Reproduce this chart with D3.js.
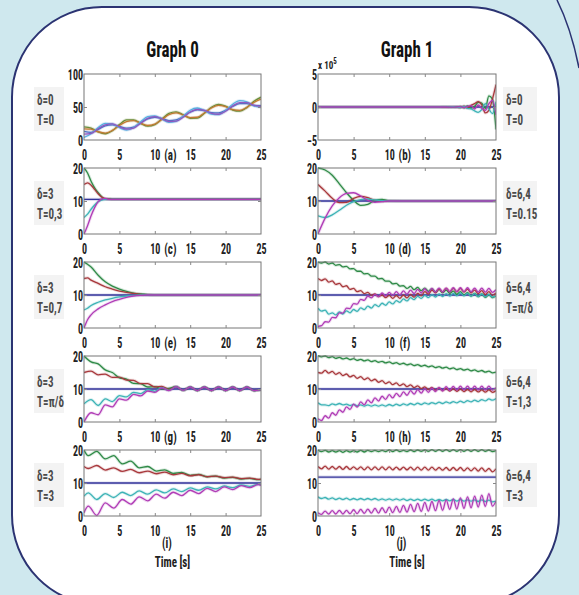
<!DOCTYPE html>
<html><head><meta charset="utf-8">
<script src="https://cdn.jsdelivr.net/npm/d3@7"></script>
<style>
body{margin:0;background:#cfe8ee;}
svg{display:block}
text{font-family:"Liberation Sans Narrow","Arial Narrow","Roboto Condensed","DejaVu Sans Condensed",sans-serif;font-weight:bold;}
</style></head><body>
<svg id="chart" width="579" height="595"></svg>
<script>
// ---------- DATA ----------
const xTicks = [0,5,10,15,20,25];
const yTicks100 = [0,50,100];
const yTicks20 = [0,10,20];
const yTicksB = [-5,0,5];
const flat_t = [0,25];

// (a) Graph 0, δ=0, T=0
const a_t = [0,1,2,3,4,5,6,7,8,9,10,11,12,13,14,15,16,17,18,19,20,21,22,23,24,25];
const a_blue = [13,11.5,16,21.5,23,20.5,18,19.5,26,32,34.5,32.5,29.5,30.5,35.5,42,45.5,44.5,41.5,41,45,51,55,55,52.5,52];
const a_green = [20.0,18.1,12.3,9.5,14.0,23.3,30.5,30.6,25.2,20.9,23.3,31.8,40.4,42.7,38.3,32.9,33.1,40.4,49.7,54.1,51.3,45.4,43.6,49.1,58.6,64.9];
const a_red = [17,16.5,12.5,10.5,14.5,22,28,29.5,25.5,22,24,31,38.5,41,38,34,34.5,41,48.5,52.5,50.5,46,45,49.5,57,62];
const a_cyan = [4.0,9.5,18.9,25.3,24.4,18.7,15.1,18.6,27.6,35.5,36.7,31.8,26.8,28.1,36.1,45.1,48.5,44.8,39.1,38.3,44.7,54.2,59.6,57.7,51.8,49.1];
const a_magenta = [9,10,17,23,24.5,20,16.5,18,25.5,33,35.5,32,28,28.5,34.5,42.5,46.5,45,40.5,39,43.5,51.5,56.5,56.5,52.5,51];

// (b) Graph 1, δ=0, T=0  (x 10^5)
const b_t = [0,17,18,19,20,20.5,21,21.5,22,22.5,23,23.5,24,24.5,25];
const b_blue = [0,0];
const b_green = [0,0,0.02,-0.05,0.1,-0.12,0.15,-0.2,0.1,0.7,0.6,-0.2,1.7,1.2,-3.4];
const b_red = [0,0,-0.02,0.05,-0.1,0.12,-0.15,0.25,0.5,0.8,0.3,-0.9,-0.5,1.2,3.4];
const b_cyan = [0,0,0.02,0.04,-0.08,0.1,-0.2,-0.3,-0.6,-0.8,-0.4,0.5,-0.3,-1.0,0.8];
const b_magenta = [0,0,0,-0.03,0.06,-0.1,0.1,0.2,-0.3,0.3,-0.2,-0.5,0.5,1.0,-1.2];

// (c) Graph 0, δ=3, T=0,3
const c_t = [0,0.5,1,1.5,2,2.5,3,3.5,4,5,25];
const c_blue = [10.5,10.5];
const c_green = [20,18.5,16,14,12.5,11.3,10.6,10.6,10.5,10.5,10.5];
const c_red = [15,15.5,14.8,13.5,12.2,11.2,10.7,10.6,10.5,10.5,10.5];
const c_cyan = [5,6,7.5,8.8,9.8,10.3,10.5,10.5,10.5,10.5,10.5];
const c_magenta = [0,2.5,5.5,8,9.8,10.6,10.8,10.5,10.5,10.5,10.5];

// (d) Graph 1, δ=6,4, T=0.15
const d_t = [0,1,2,3,4,5,6,7,8,9,10,12,25];
const d_blue = [10,10];
const d_green = [20,19.4,17.8,15.2,12.5,10.2,8.7,9.0,10.2,10.5,10.1,10,10];
const d_red = [15,13,10.8,9.5,9.6,10.8,11.4,11,10.2,9.9,10,10,10];
const d_cyan = [5.5,5.0,5.8,7.2,8.7,9.8,10.4,10.6,10.3,10.1,10,10,10];
const d_magenta = [0,4.8,8.5,11,12.3,12.5,11.5,10.2,9.6,9.8,10,10,10];

// (e) Graph 0, δ=3, T=0,7
const e_t = [0,0.5,1,2,3,4,5,6,7,8,9,10,12,25];
const e_blue = [10,10];
const e_green = [20,19.3,18.5,16,14,12.7,11.8,11.1,10.6,10.3,10.1,10,10,10];
const e_red = [15,15.2,14.5,13.5,12.5,11.8,11.2,10.8,10.5,10.2,10.1,10,10,10];
const e_cyan = [5.5,6,6.8,7.8,8.5,9.0,9.4,9.7,9.9,10,10,10,10,10];
const e_magenta = [0,2.5,4,5.8,7,8,8.7,9.3,9.7,9.9,10,10,10,10];

// (f),(h),(j) sample grid
const fhj_t = [0,0.5,1,1.5,2,2.5,3,3.5,4,4.5,5,5.5,6,6.5,7,7.5,8,8.5,9,9.5,10,10.5,11,11.5,12,12.5,13,13.5,14,14.5,15,15.5,16,16.5,17,17.5,18,18.5,19,19.5,20,20.5,21,21.5,22,22.5,23,23.5,24,24.5,25];

// (f) Graph 1, δ=6,4, T=π/δ
const f_blue = [10,10];
const f_green = [20.0,19.7,20.0,19.4,19.7,19.0,19.2,18.5,18.7,17.9,18.0,17.2,17.2,16.4,16.5,15.7,15.7,14.9,15.0,14.2,14.2,13.4,13.5,12.7,12.8,12.0,12.6,11.6,12.3,11.3,12.1,11.1,11.9,10.9,11.7,10.7,11.5,10.5,11.2,10.2,11.0,10.0,10.7,9.7,10.5,9.5,10.3,9.3,10.1,9.2,9.8];
const f_red = [15.0,14.4,14.9,13.9,14.3,13.2,13.5,12.5,12.8,11.7,12.0,11.0,11.3,10.4,10.8,9.9,10.3,9.5,10.0,9.2,9.9,9.0,9.85,9.0,10.0,9.1,10.2,9.35,10.5,9.75,11.0,10.25,11.5,10.65,11.8,10.9,12.0,11.0,12.0,11.0,12.0,10.9,11.8,10.65,11.5,10.4,11.3,10.15,11.0,9.9,10.6];
const f_cyan = [6.0,5.1,5.4,4.2,4.6,3.95,4.9,4.25,5.2,4.6,5.6,5.05,6.1,5.55,6.6,6.05,7.1,6.5,7.5,6.9,7.9,7.3,8.3,7.75,8.8,8.2,9.2,8.6,9.6,8.95,9.9,9.2,10.1,9.4,10.3,9.55,10.4,9.65,10.5,9.75,10.6,9.75,10.5,9.65,10.4,9.55,10.3,9.45,10.2,9.35,9.9];
const f_magenta = [0.5,0.7,1.9,1.8,3.2,3.1,4.6,4.5,6.0,5.9,7.4,7.25,8.7,8.4,9.7,9.15,10.2,9.5,10.6,9.7,10.8,9.9,11.0,10.05,11.25,10.25,11.45,10.45,11.7,10.6,11.9,10.75,12.0,10.85,12.1,10.9,12.1,10.95,12.2,11.0,12.2,11.0,12.2,10.95,12.1,10.9,12.1,10.85,12.0,10.8,11.6];

// (g) Graph 0, δ=3, T=π/δ
const g_t = [0,1,2,3,4,5,6,7,8,9,10,11,12,13,14,15,16,17,18,19,20,21,22,23,24,25];
const g_blue = [10,10];
const g_green = [20,18.2,17.6,15.8,15.0,13.4,13.0,11.7,11.6,10.6,10.7,10.0,10.2,10.7,9.6,10.6,9.5,10.6,9.5,10.6,9.5,10.6,9.5,10.6,9.5,9.8];
const g_red = [15,15.4,14.3,14.5,13.5,13.6,12.7,12.6,11.6,11.6,10.6,10.8,9.9,10.7,9.6,10.6,9.5,10.6,9.5,10.6,9.5,10.6,9.5,10.6,9.5,9.8];
const g_cyan = [5.5,6.8,5.0,7.0,6.2,8.0,7.6,9.0,8.6,9.8,9.3,10.5,9.6,10.7,9.6,10.6,9.5,10.6,9.5,10.6,9.5,10.6,9.5,10.6,9.5,9.8];
const g_magenta = [0,2.8,2.2,5.2,4.6,7.0,6.6,8.4,7.9,9.4,9.0,10.3,9.5,10.7,9.6,10.6,9.5,10.6,9.5,10.6,9.5,10.6,9.5,10.6,9.5,9.8];

// (h) Graph 1, δ=6,4, T=1,3
const h_blue = [10,10];
const h_green = [20.1,19.75,20.0,19.5,19.8,19.3,19.6,19.1,19.4,18.9,19.2,18.7,19.0,18.5,18.8,18.3,18.6,18.1,18.4,17.9,18.2,17.7,18.0,17.5,17.8,17.3,17.6,17.1,17.4,16.9,17.2,16.7,17.0,16.5,16.8,16.3,16.6,16.1,16.4,15.9,16.2,15.7,16.0,15.5,15.8,15.3,15.6,15.1,15.4,14.9,15.1];
const h_red = [15.0,14.8,15.65,14.8,15.35,14.45,14.95,14.05,14.55,13.65,14.15,13.25,13.75,12.85,13.35,12.45,12.95,12.05,12.55,11.65,12.15,11.3,11.85,11.0,11.55,10.7,11.25,10.4,10.95,10.1,10.65,9.85,10.45,9.65,10.25,9.5,10.15,9.4,10.05,9.3,9.95,9.2,9.85,9.15,9.85,9.1,9.75,9.05,9.75,9.0,9.5];
const h_cyan = [5.8,5.2,5.2,4.95,5.5,5.2,5.6,5.2,5.4,5.0,5.3,4.9,5.2,4.8,5.2,4.8,5.2,4.8,5.2,4.8,5.3,4.9,5.4,5.0,5.5,5.1,5.6,5.2,5.7,5.3,5.8,5.4,5.9,5.5,6.0,5.6,6.1,5.7,6.2,5.8,6.3,5.9,6.5,6.1,6.6,6.2,6.8,6.4,7.0,6.6,7.1];
const h_magenta = [1.0,0.45,1.9,1.15,2.8,2.05,3.7,2.95,4.6,3.8,5.4,4.55,6.1,5.2,6.7,5.8,7.3,6.35,7.8,6.85,8.3,7.3,8.7,7.7,9.1,8.1,9.5,8.45,9.8,8.75,10.1,9.0,10.3,9.2,10.5,9.4,10.7,9.55,10.8,9.65,10.9,9.7,10.9,9.7,10.9,9.7,10.9,9.7,10.9,9.7,10.4];

// (i) Graph 0, δ=3, T=3
const i_t = [0,0.6,1.8,3.0,4.2,5.4,6.6,7.8,9.0,10.2,11.4,12.6,13.8,15.0,16.2,17.4,18.6,19.8,21.0,22.2,23.4,24.6,25];
const i_blue = [10,10];
const i_green = [20.0,18.3,19.6,17.3,18.3,15.8,16.6,14.6,15.0,13.6,14.0,12.9,13.2,12.3,12.6,11.9,12.1,11.5,11.7,11.2,11.4,11.0,11.1];
const i_red = [15.0,14.4,15.3,13.9,14.6,13.5,14.1,13.1,13.6,12.8,13.3,12.5,12.9,12.2,12.5,11.9,12.1,11.6,11.8,11.3,11.5,11.1,11.2];
const i_cyan = [6.0,7.0,5.0,6.8,5.6,7.2,6.2,7.6,6.6,7.9,7.0,8.2,7.4,8.5,7.8,8.8,8.2,9.1,8.6,9.4,9.0,9.6,9.5];
const i_magenta = [1.0,3.0,0.2,4.0,2.4,5.0,3.6,5.8,4.6,6.6,5.4,7.2,6.2,7.8,6.8,8.4,7.4,8.8,8.0,9.2,8.6,9.5,9.3];

// (j) Graph 1, δ=6,4, T=3
const j_blue = [11.8,11.8];
const j_green = [20.0,19.5,19.9,19.4,19.8,19.4,19.8,19.3,19.8,19.4,19.8,19.4,19.9,19.4,19.9,19.5,19.9,19.5,19.9,19.5,20.0,19.5,20.0,19.5,19.9,19.5,20.0,19.5,20.0,19.6,20.0,19.6,20.1,19.6,20.1,19.6,20.1,19.6,20.1,19.6,20.1,19.6,20.1,19.6,20.1,19.6,20.1,19.6,20.0,19.5,19.8];
const j_red = [15.0,14.3,15.1,14.2,15.0,14.2,15.0,14.1,15.0,14.1,14.9,14.1,14.9,14.0,14.9,14.0,14.9,14.0,14.9,14.0,14.9,14.0,14.8,14.0,14.8,14.0,14.8,13.9,14.8,13.9,14.8,13.9,14.8,13.9,14.7,13.9,14.7,13.8,14.7,13.8,14.7,13.7,14.6,13.7,14.6,13.6,14.6,13.5,14.4,13.4,14.3];
const j_cyan = [5.8,5.3,5.6,5.1,5.5,5.0,5.4,5.0,5.4,4.9,5.3,4.9,5.3,4.9,5.3,4.9,5.3,4.8,5.2,4.8,5.2,4.8,5.2,4.8,5.2,4.7,5.1,4.7,5.1,4.7,5.1,4.7,5.1,4.6,5.0,4.6,5.0,4.6,5.0,4.5,5.0,4.5,4.9,4.5,4.9,4.4,4.9,4.4,4.8,4.3,4.5];
const j_magenta = [1.0,0.5,1.5,0.6,1.6,0.6,1.7,0.6,1.7,0.7,1.9,0.7,2.0,0.8,2.1,0.9,2.3,0.9,2.5,1.0,2.7,1.0,2.9,1.1,3.2,1.2,3.5,1.3,3.8,1.4,4.1,1.5,4.4,1.6,4.7,1.7,4.9,2.0,5.2,2.1,5.5,2.3,5.8,2.5,6.0,2.7,6.3,2.9,6.8,3.0,4.5];

const titles = ["Graph 0","Graph 1"];
const leftLabels = [["δ=0","T=0"],["δ=3","T=0,3"],["δ=3","T=0,7"],["δ=3","T=π/δ"],["δ=3","T=3"]];
const rightLabels = [["δ=0","T=0"],["δ=6,4","T=0.15"],["δ=6,4","T=π/δ"],["δ=6,4","T=1,3"],["δ=6,4","T=3"]];
const panelTags = ["(a)","(b)","(c)","(d)","(e)","(f)","(g)","(h)","(i)","(j)"];
const xLabel = "Time [s]";

// ---------- STYLE ----------
const C = {blue:'#33339a', green:'#2f8a47', red:'#a8383c', cyan:'#3db3b6', magenta:'#b03cb6'};
const CA = {blue:'#4f72c4', green:'#6a8d3a', red:'#c27a32', cyan:'#58aee0', magenta:'#9058c0'};
const COL_X = [[84,261],[318,496]];
const ROW_TOP = [74,168,262,356,450];
const PH = 66;
const SY = 1.4;

function ser(t, v, c){ return {t, v, c}; }
function set5(t, bl, gr, rd, cy, mg, pal){ pal = pal || C;
  return [ser(bl.length===2?flat_t:t, bl, pal.blue), ser(t, gr, pal.green), ser(t, rd, pal.red), ser(t, cy, pal.cyan), ser(t, mg, pal.magenta)]; }

const panels = [
  {col:0,row:0,yd:[0,100],yt:yTicks100,s:set5(a_t,a_blue,a_green,a_red,a_cyan,a_magenta,CA)},
  {col:1,row:0,yd:[-5,5],yt:yTicksB,s:set5(b_t,b_blue,b_green,b_red,b_cyan,b_magenta)},
  {col:0,row:1,yd:[0,20],yt:yTicks20,s:set5(c_t,c_blue,c_green,c_red,c_cyan,c_magenta)},
  {col:1,row:1,yd:[0,20],yt:yTicks20,s:set5(d_t,d_blue,d_green,d_red,d_cyan,d_magenta)},
  {col:0,row:2,yd:[0,20],yt:yTicks20,s:set5(e_t,e_blue,e_green,e_red,e_cyan,e_magenta)},
  {col:1,row:2,yd:[0,20],yt:yTicks20,s:set5(fhj_t,f_blue,f_green,f_red,f_cyan,f_magenta)},
  {col:0,row:3,yd:[0,20],yt:yTicks20,s:set5(g_t,g_blue,g_green,g_red,g_cyan,g_magenta)},
  {col:1,row:3,yd:[0,20],yt:yTicks20,s:set5(fhj_t,h_blue,h_green,h_red,h_cyan,h_magenta)},
  {col:0,row:4,yd:[0,20],yt:yTicks20,s:set5(i_t,i_blue,i_green,i_red,i_cyan,i_magenta)},
  {col:1,row:4,yd:[0,20],yt:yTicks20,s:set5(fhj_t,j_blue,j_green,j_red,j_cyan,j_magenta)}
];

// ---------- DRAW ----------
const svg = d3.select('#chart');
svg.append('rect').attr('width',579).attr('height',595).attr('fill','#cfe8ee');
svg.append('path').attr('d','M557,0 Q571,28 579,68').attr('fill','none').attr('stroke','#2b3372').attr('stroke-width',1.5);
svg.append('rect').attr('x',12).attr('y',7).attr('width',547).attr('height',598).attr('rx',90)
  .attr('fill','#fff').attr('stroke','#2b3372').attr('stroke-width',2);

function stext(g, x, y, s, size, anchor, fill, sy){
  return g.append('text').attr('transform',`translate(${x},${y}) scale(1,${sy||SY})`)
    .attr('text-anchor',anchor||'middle').attr('font-size',size).attr('fill',fill||'#222').text(s);
}

const defs = svg.append('defs');

panels.forEach((p, idx) => {
  const [x0,x1] = COL_X[p.col];
  const top = ROW_TOP[p.row], bot = top + PH;
  const x = d3.scaleLinear().domain([0,25]).range([x0,x1]);
  const y = d3.scaleLinear().domain(p.yd).range([bot, top]);
  const g = svg.append('g');
  const cid = 'clip' + idx;
  defs.append('clipPath').attr('id',cid).append('rect').attr('x',x0).attr('y',top-1).attr('width',x1-x0).attr('height',PH+2);

  // label boxes
  const lx = p.col===0 ? 37 : 506;
  const labs = p.col===0 ? leftLabels[p.row] : rightLabels[p.row];
  g.append('rect').attr('x',lx-3).attr('y',top+13).attr('width',p.col===0?30:34).attr('height',44).attr('fill','#f3f3f3');
  stext(g, lx, top+30.5, labs[0], 11, 'start', '#4a4a4a');
  stext(g, lx, top+50.5, labs[1], 11, 'start', '#4a4a4a');

  // lines
  const lg = g.append('g').attr('clip-path',`url(#${cid})`);
  const line = d3.line().x(d=>x(d[0])).y(d=>y(d[1])).curve(d3.curveMonotoneX);
  p.s.forEach(s => {
    const data = s.t.map((t,i)=>[t, s.v[i]]);
    lg.append('path').attr('d',line(data)).attr('fill','none').attr('stroke',s.c).attr('stroke-width',3.2).attr('stroke-opacity',0.18);
  });
  p.s.forEach(s => {
    const data = s.t.map((t,i)=>[t, s.v[i]]);
    lg.append('path').attr('d',line(data)).attr('fill','none').attr('stroke',s.c).attr('stroke-width',1.3);
  });

  // frame + inner ticks
  g.append('rect').attr('x',x0).attr('y',top).attr('width',x1-x0).attr('height',PH).attr('fill','none').attr('stroke','#777').attr('stroke-width',1);
  const inner = [5,10,15,20];
  const mid = [p.yt[1]];
  const t1 = g.append('g').attr('transform',`translate(0,${top})`).call(d3.axisTop(x).tickValues(inner).tickSizeInner(-3).tickSizeOuter(0).tickFormat(''));
  const t2 = g.append('g').attr('transform',`translate(0,${bot})`).call(d3.axisBottom(x).tickValues(inner).tickSizeInner(-3).tickSizeOuter(0).tickFormat(''));
  const t3 = g.append('g').attr('transform',`translate(${x0},0)`).call(d3.axisLeft(y).tickValues(mid).tickSizeInner(-3).tickSizeOuter(0).tickFormat(''));
  const t4 = g.append('g').attr('transform',`translate(${x1},0)`).call(d3.axisRight(y).tickValues(mid).tickSizeInner(-3).tickSizeOuter(0).tickFormat(''));
  [t1,t2,t3,t4].forEach(a => { a.select('.domain').remove(); a.selectAll('line').attr('stroke','#888'); });

  // x tick labels
  const xa = g.append('g').attr('transform',`translate(0,${bot})`).attr('font-size',11).attr('font-family',null)
    .call(d3.axisBottom(x).tickValues(xTicks).tickSize(0));
  xa.select('.domain').remove();
  xa.selectAll('text').attr('y',0).attr('dy',0).attr('fill','#222').attr('transform',`translate(0,19.5) scale(1,${SY})`);

  // y tick labels
  const ya = g.append('g').attr('transform',`translate(${x0},0)`).attr('font-size',11).attr('font-family',null)
    .call(d3.axisLeft(y).tickValues(p.yt).tickSize(0));
  ya.select('.domain').remove();
  ya.selectAll('text').attr('x',0).attr('dy',0).attr('fill','#222').attr('transform',`translate(-1,5) scale(1,${SY})`);

  // panel tag
  if (p.row < 4) {
    stext(g, x(12.2), bot+19.5, panelTags[idx], 11, 'middle');
  } else {
    stext(g, x(11.7), bot+32, panelTags[idx], 11, 'middle');
    stext(g, x(12.5), bot+51, xLabel, 11, 'middle');
  }

  // title
  if (p.row === 0) {
    stext(g, (x0+x1)/2, 57, titles[p.col], 17, 'middle', '#111', 1.25);
  }
  if (idx === 1) {
    const tx = g.append('text').attr('transform',`translate(${x0},69) scale(1,1.3)`).attr('font-size',9).attr('fill','#222');
    tx.append('tspan').text('x 10');
    tx.append('tspan').attr('dy',-4).attr('font-size',7).text('5');
  }
});
</script>
</body></html>
